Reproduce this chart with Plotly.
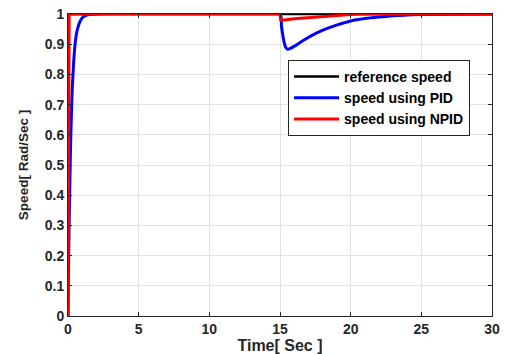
import plotly.graph_objects as go

# Data
t_ref = [0, 30]
speed_ref = [1, 1]

t_pid = [0, 0.05, 0.1, 0.15, 0.2, 0.25, 0.3, 0.4, 0.5, 0.6, 0.7, 0.8, 1.0, 1.2, 1.5, 2,
         15, 15.1, 15.2, 15.3, 15.4, 15.55, 15.7, 16, 16.5, 17, 17.5, 18, 19, 20, 21, 22, 23, 24, 25, 27, 30]
speed_pid = [0, 0.2, 0.36, 0.49, 0.6, 0.68, 0.75, 0.84, 0.9, 0.935, 0.955, 0.97, 0.987, 0.994, 0.998, 1,
             1, 0.96, 0.93, 0.905, 0.89, 0.883, 0.885, 0.893, 0.908, 0.922, 0.935, 0.946, 0.963, 0.977, 0.985, 0.99, 0.994, 0.997, 0.998, 0.999, 1]

t_npid = [0, 0.02, 0.04, 0.06, 0.08, 0.1, 15, 15.05, 15.3, 16, 17, 18, 19, 20, 20.7, 30]
speed_npid = [0, 0.45, 0.8, 0.95, 0.99, 1, 1, 0.98, 0.98, 0.984, 0.988, 0.991, 0.995, 0.998, 1, 1]

x_ticks = [0, 5, 10, 15, 20, 25, 30]
y_ticks = [0, 0.1, 0.2, 0.3, 0.4, 0.5, 0.6, 0.7, 0.8, 0.9, 1]
y_tick_labels = ["0", "0.1", "0.2", "0.3", "0.4", "0.5", "0.6", "0.7", "0.8", "0.9", "1"]

FONT = "Liberation Sans"

fig = go.Figure()
fig.add_trace(go.Scatter(x=t_ref, y=speed_ref, mode="lines", name="reference speed",
                         line=dict(color="black", width=2.5)))
fig.add_trace(go.Scatter(x=t_pid, y=speed_pid, mode="lines", name="speed using PID",
                         line=dict(color="#0000ff", width=3, shape="spline", smoothing=0.6)))
fig.add_trace(go.Scatter(x=t_npid, y=speed_npid, mode="lines", name="speed using NPID",
                         line=dict(color="#ff0000", width=3)))

axis_common = dict(
    showline=True, linecolor="#262626", linewidth=1, mirror="ticks",
    ticks="inside", ticklen=4, tickcolor="#262626",
    showgrid=True, gridcolor="#e3e3e3", gridwidth=1,
    zeroline=False, automargin=False,
    tickfont=dict(family=FONT, size=14, color="#262626", weight="bold"),
)

fig.update_layout(
    width=505, height=354,
    margin=dict(l=68, r=13, t=14, b=38),
    paper_bgcolor="white", plot_bgcolor="white",
    showlegend=True,
    legend=dict(
        x=0.519, y=0.722, xanchor="left", yanchor="middle",
        bgcolor="white", bordercolor="#262626", borderwidth=1,
        font=dict(family=FONT, size=14, color="black", weight="bold"),
        tracegroupgap=0, itemwidth=45,
    ),
    xaxis=dict(range=[0, 30], tickvals=x_ticks,
               title=dict(text="Time[ Sec ]", standoff=0,
                          font=dict(family=FONT, size=16, color="#262626", weight="bold")),
               **axis_common),
    yaxis=dict(range=[0, 1], tickvals=y_ticks, ticktext=y_tick_labels,
               title=dict(text="Speed[ Rad/Sec ]", standoff=13,
                          font=dict(family=FONT, size=13.5, color="#262626", weight="bold")),
               **axis_common),
)

fig.write_html("out.html")
